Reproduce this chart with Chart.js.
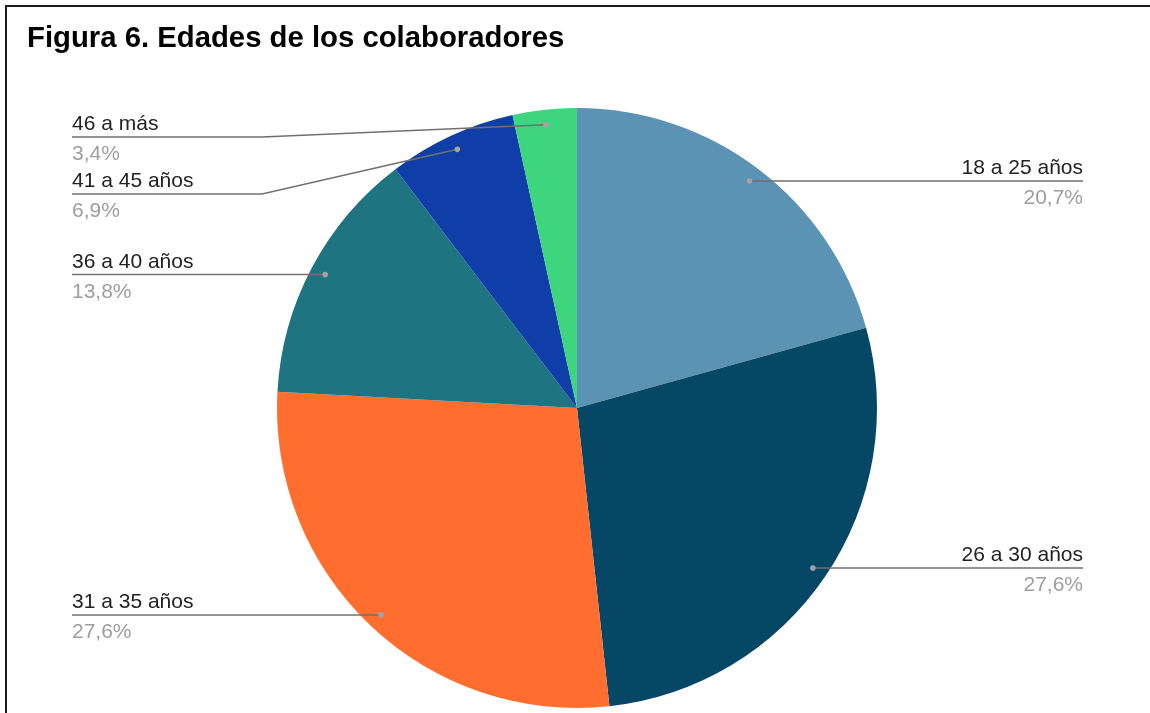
<!DOCTYPE html>
<html>
<head>
<meta charset="utf-8">
<script src="https://cdn.jsdelivr.net/npm/chart.js@4/dist/chart.umd.min.js"></script>
<style>
  html, body { margin: 0; padding: 0; background: #ffffff; }
  #wrap { width: 1150px; height: 713px; position: relative; }
</style>
</head>
<body>
<div id="wrap"><canvas id="c" width="1150" height="713"></canvas></div>
<script>
const titleText = "Figura 6. Edades de los colaboradores";
const categories = ["18 a 25 años", "26 a 30 años", "31 a 35 años", "36 a 40 años", "41 a 45 años", "46 a más"];
const counts = [6, 8, 8, 4, 2, 1];
const sliceColors = ["#5a93b3", "#074766", "#ff6d2f", "#1f7481", "#0f3ea8", "#3dd67f"];

const frameAndTitle = {
  id: "frameAndTitle",
  beforeDraw(chart) {
    const ctx = chart.ctx;
    ctx.save();
    ctx.fillStyle = "#ffffff";
    ctx.fillRect(0, 0, chart.width, chart.height);
    ctx.strokeStyle = "#1a1a1a";
    ctx.lineWidth = 2;
    ctx.beginPath();
    ctx.moveTo(6, chart.height);
    ctx.lineTo(6, 6);
    ctx.lineTo(chart.width, 6);
    ctx.stroke();
    ctx.fillStyle = "#000000";
    ctx.font = "bold 29.3px 'Liberation Sans', Arial, sans-serif";
    ctx.textAlign = "left";
    ctx.textBaseline = "alphabetic";
    ctx.fillText(titleText, 27, 47);
    ctx.restore();
  }
};

const leaderLabels = {
  id: "leaderLabels",
  afterDatasetsDraw(chart) {
    const ctx = chart.ctx;
    const meta = chart.getDatasetMeta(0);
    const data = chart.data.datasets[0].data;
    const total = data.reduce((a, b) => a + b, 0);
    const items = meta.data.map((el, i) => {
      const p = el.getProps(["x", "y", "startAngle", "endAngle", "outerRadius"], true);
      const mid = (p.startAngle + p.endAngle) / 2;
      const r = p.outerRadius * 0.95;
      return {
        i,
        dx: p.x + Math.cos(mid) * r,
        dy: p.y + Math.sin(mid) * r,
        right: Math.cos(mid) >= 0
      };
    });
    const minY = 137, gap = 57;
    ["L", "R"].forEach(side => {
      const group = items.filter(it => (side === "R") === it.right).sort((a, b) => a.dy - b.dy);
      let prev = -Infinity;
      group.forEach(it => {
        it.ly = Math.max(it.dy, prev + gap, minY);
        prev = it.ly;
      });
    });
    ctx.save();
    items.forEach(it => {
      const textX = it.right ? 1083 : 72;
      const bendX = it.right ? 893 : 262;
      ctx.strokeStyle = "#707070";
      ctx.lineWidth = 1.5;
      ctx.beginPath();
      ctx.moveTo(textX, it.ly);
      ctx.lineTo(bendX, it.ly);
      ctx.lineTo(it.dx, it.dy);
      ctx.stroke();
      ctx.fillStyle = "#a89ea4";
      ctx.beginPath();
      ctx.arc(it.dx, it.dy, 2.8, 0, Math.PI * 2);
      ctx.fill();
      ctx.textAlign = it.right ? "right" : "left";
      ctx.textBaseline = "alphabetic";
      ctx.font = "21px 'Liberation Sans', Arial, sans-serif";
      ctx.fillStyle = "#222222";
      ctx.fillText(chart.data.labels[it.i], textX, it.ly - 7);
      const pct = (data[it.i] / total * 100).toFixed(1).replace(".", ",") + "%";
      ctx.fillStyle = "#9e9e9e";
      ctx.fillText(pct, textX, it.ly + 23);
    });
    ctx.restore();
  }
};

new Chart(document.getElementById("c"), {
  type: "pie",
  data: {
    labels: categories,
    datasets: [{
      data: counts,
      backgroundColor: sliceColors,
      borderWidth: 0
    }]
  },
  options: {
    responsive: false,
    animation: false,
    layout: { padding: { left: 27, right: 23, top: 108, bottom: 5 } },
    plugins: {
      legend: { display: false },
      title: { display: false },
      tooltip: { enabled: false }
    }
  },
  plugins: [frameAndTitle, leaderLabels]
});
</script>
</body>
</html>
